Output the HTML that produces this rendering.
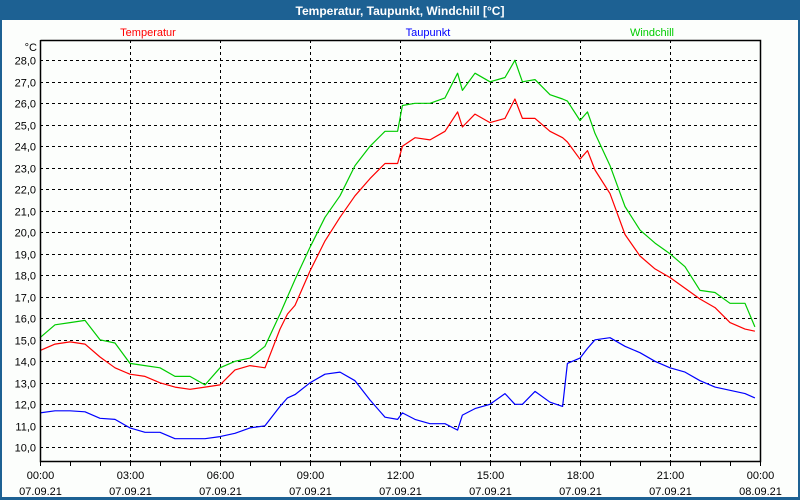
<!DOCTYPE html>
<html><head><meta charset="utf-8"><style>
html,body{margin:0;padding:0;background:#fcfefc;}
svg{display:block;font-family:"Liberation Sans",sans-serif;}
</style></head><body>
<svg id="c" width="800" height="500" xmlns="http://www.w3.org/2000/svg">
<rect x="0" y="0" width="800" height="500" fill="#fcfefc"/>
<rect x="0" y="0" width="800" height="20" fill="#1d6193"/>
<rect x="0" y="0" width="2" height="500" fill="#1d6193"/>
<rect x="798" y="0" width="2" height="500" fill="#1d6193"/>
<rect x="0" y="497" width="800" height="3" fill="#1d6193"/>
<text x="400" y="15" text-anchor="middle" fill="#fff" font-size="12" font-weight="bold">Temperatur, Taupunkt, Windchill [°C]</text>
<text x="148" y="36" text-anchor="middle" fill="#ff0000" font-size="11">Temperatur</text>
<text x="428" y="36" text-anchor="middle" fill="#0000ff" font-size="11">Taupunkt</text>
<text x="652" y="36" text-anchor="middle" fill="#00cc00" font-size="11">Windchill</text>
<text x="37" y="51" text-anchor="end" fill="#000" font-size="11">°C</text>
<g id="grid"></g><g id="series"></g><g id="axes"></g>
</svg>
<script>
const times=[0,0.5,1,1.5,2,2.5,3,3.5,4,4.5,5,5.5,6,6.5,7,7.5,8,8.25,8.5,9,9.5,10,10.5,11,11.5,11.92,12.08,12.5,13,13.5,13.92,14.08,14.5,15,15.5,15.83,16.08,16.5,17,17.42,17.58,18,18.25,18.5,19,19.5,20,20.5,21,21.5,22,22.5,23,23.5,23.83];
const temperatur=[14.5,14.8,14.9,14.8,14.2,13.7,13.4,13.3,13.0,12.8,12.7,12.8,12.9,13.6,13.8,13.7,15.5,16.2,16.6,18.2,19.6,20.7,21.7,22.5,23.2,23.2,24.0,24.4,24.3,24.7,25.6,24.9,25.5,25.1,25.3,26.2,25.3,25.3,24.7,24.4,24.2,23.4,23.8,22.9,21.8,19.9,18.9,18.3,17.9,17.4,16.9,16.5,15.8,15.5,15.4];
const windchill=[15.1,15.7,15.8,15.9,15.0,14.85,13.9,13.8,13.7,13.3,13.3,12.9,13.7,14.0,14.15,14.7,16.2,17.0,17.8,19.3,20.7,21.7,23.1,24.0,24.7,24.7,25.9,26.0,26.0,26.25,27.4,26.6,27.4,27.0,27.2,28.0,27.0,27.1,26.4,26.2,26.1,25.2,25.6,24.6,23.1,21.2,20.1,19.5,19.0,18.4,17.3,17.2,16.7,16.7,15.6];
const taupunkt=[11.6,11.7,11.7,11.65,11.35,11.3,10.9,10.7,10.7,10.4,10.4,10.4,10.5,10.65,10.9,11.0,11.9,12.3,12.45,13.0,13.4,13.5,13.1,12.2,11.4,11.3,11.6,11.3,11.1,11.1,10.8,11.5,11.8,12.0,12.5,12.0,12.0,12.6,12.1,11.9,13.9,14.15,14.6,15.0,15.1,14.7,14.4,14.0,13.7,13.5,13.1,12.8,12.65,12.5,12.3];
const yTicks=[10,11,12,13,14,15,16,17,18,19,20,21,22,23,24,25,26,27,28];
const xTickHours=[0,3,6,9,12,15,18,21,24];
const xTimeLabels=["00:00","03:00","06:00","09:00","12:00","15:00","18:00","21:00","00:00"];
const xDateLabels=["07.09.21","07.09.21","07.09.21","07.09.21","07.09.21","07.09.21","07.09.21","07.09.21","08.09.21"];

const NS="http://www.w3.org/2000/svg";
const L=40,R=760,T=40,B=461;
function xs(h){return L+(h/24)*(R-L);}
function ys(v){return 447.3-(v-10)*21.5;}
function mk(tag,attrs,parent){const e=document.createElementNS(NS,tag);for(const k in attrs)e.setAttribute(k,attrs[k]);parent.appendChild(e);return e;}
const grid=document.getElementById('grid'),series=document.getElementById('series'),axes=document.getElementById('axes');

yTicks.forEach(v=>{
  const y=Math.round(ys(v))+0.5;
  const g=mk('line',{x1:L,x2:R,y1:y,y2:y,stroke:'#000','stroke-width':1,'stroke-dasharray':'3,3'},grid);
  
  
  const t=mk('text',{x:36,y:y+4,'text-anchor':'end','font-size':11,fill:'#000'},axes);
  t.textContent=v.toFixed(1).replace('.',',');
  
  
});
xTickHours.forEach((h,i)=>{
  const x=Math.round(xs(h))+0.5;
  if(h>0&&h<24){
    const g=mk('line',{x1:x,x2:x,y1:T,y2:B,stroke:'#000','stroke-width':1,'stroke-dasharray':'3,3'},grid);
    
    
  }
  const t1=mk('text',{x:x,y:479,'text-anchor':'middle','font-size':11,fill:'#000'},axes);
  t1.textContent=xTimeLabels[i];
  
  
  const t2=mk('text',{x:x,y:495,'text-anchor':'middle','font-size':11,fill:'#000'},axes);
  t2.textContent=xDateLabels[i];
  
  
});
for(let h=0;h<=24;h++){
  const x=Math.round(xs(h))+0.5;
  const tk=mk('line',{x1:x,x2:x,y1:B,y2:B+5,stroke:'#000','stroke-width':1},axes);
  
  
}
const frame=mk('polyline',{points:`${L+0.5},${T} ${L+0.5},${B+0.5} ${R+0.5},${B+0.5} ${R+0.5},${T+0.5} ${L+0.5},${T+0.5}`,fill:'none',stroke:'#000','stroke-width':1.5},axes);



function line(vals,color,name){
  const pts=times.map((h,i)=>xs(h).toFixed(1)+','+ys(vals[i]).toFixed(1)).join(' ');
  const p=mk('polyline',{points:pts,fill:'none',stroke:color,'stroke-width':1.2,'stroke-linejoin':'round'},series);
  
  
}
line(taupunkt,'#0000ff','taupunkt-line');
line(temperatur,'#ff0000','temperatur-line');
line(windchill,'#00cc00','windchill-line');
</script>
</body></html>
